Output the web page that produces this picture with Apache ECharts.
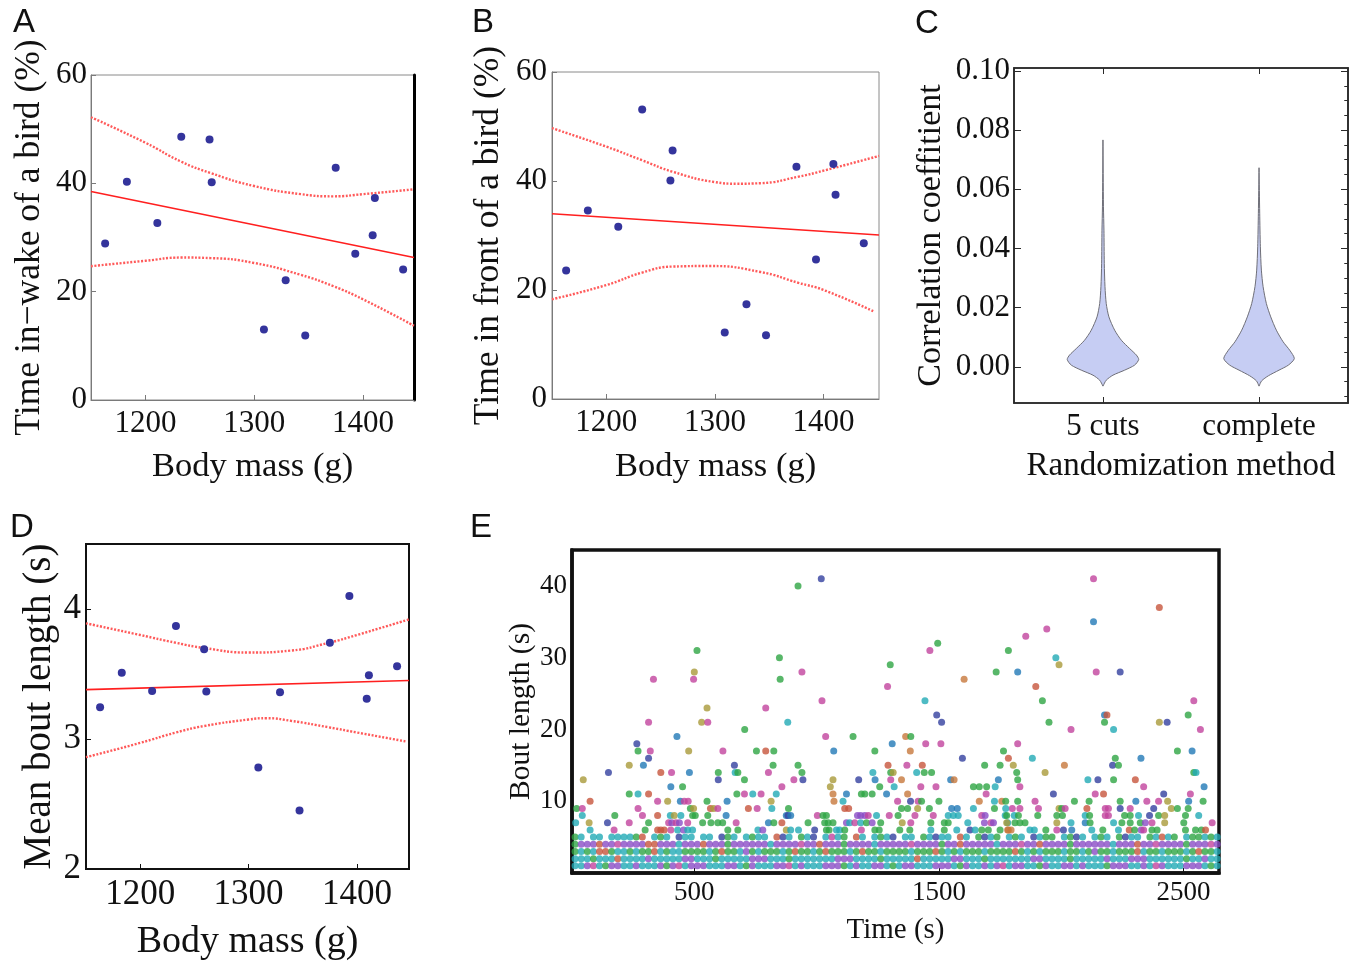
<!DOCTYPE html>
<html><head><meta charset="utf-8">
<script src="https://cdn.jsdelivr.net/npm/echarts@6/dist/echarts.min.js"></script>
<style>html,body{margin:0;padding:0;background:#fff}#c{width:1355px;height:965px}</style>
</head><body><div id="c"></div><script>
// ---------- Panels A, B, D: per-bird data ----------
const massG     = [1163,1183,1211,1233,1259,1261,1309,1329,1347,1375,1393,1409,1411,1437];
const wakePct   = [28.9,40.3,32.7,48.6,48.1,40.2,13.0,22.1,11.9,42.9,27.0,30.4,37.3,24.1];
const frontPct  = [23.6,34.6,31.6,53.1,40.1,45.6,12.2,17.4,11.7,42.6,25.6,43.1,37.5,28.6];
const meanBoutS = [3.245,3.51,3.37,3.87,3.69,3.365,2.78,3.36,2.45,3.74,4.10,3.31,3.49,3.56];
const massTicks = [1200,1300,1400];

// regression lines and confidence bands
const fitWake   = [[1150,38.5],[1447,26.3]];
const wakeUpper = [[1150,52.2],[1200,47.5],[1233,44.0],[1260,41.9],[1300,39.5],[1343,38.0],[1373,37.6],[1400,38.0],[1447,38.9]];
const wakeLower = [[1150,24.7],[1200,25.7],[1233,26.3],[1260,26.2],[1300,25.3],[1343,23.1],[1373,21.0],[1400,18.6],[1447,13.7]];
const fitFront   = [[1150,34.0],[1451,30.1]];
const frontUpper = [[1150,49.7],[1200,46.3],[1233,43.8],[1261,41.7],[1300,39.8],[1320,39.5],[1342,39.6],[1377,40.8],[1400,41.9],[1451,44.6]];
const frontLower = [[1150,18.3],[1200,20.9],[1233,23.2],[1261,24.3],[1296,24.4],[1342,23.3],[1377,21.3],[1400,20.0],[1447,16.0]];
const fitBout   = [[1150,3.38],[1448,3.45]];
const boutUpper = [[1150,3.89],[1200,3.80],[1233,3.74],[1259,3.70],[1300,3.665],[1339,3.68],[1374,3.74],[1400,3.80],[1448,3.92]];
const boutLower = [[1150,2.86],[1200,2.97],[1233,3.05],[1259,3.10],[1300,3.15],[1317,3.16],[1339,3.14],[1374,3.09],[1400,3.05],[1446,2.98]];

// ---------- Panel C: violins [value, half width] ----------
const methodNames = ['5 cuts','complete'];
const violinFiveCuts = [[-0.0065,0],[-0.0045,0.021],[-0.0028,0.064],[-0.0011,0.139],[0.0006,0.203],[0.0025,0.229],[0.004,0.214],[0.0062,0.171],[0.009,0.118],[0.0124,0.075],[0.0169,0.038],[0.0214,0.021],[0.0271,0.013],[0.035,0.0085],[0.0462,0.0064],[0.0541,0.0032],[0.0767,0]];
const violinComplete = [[-0.0065,0],[-0.0047,0.017],[-0.003,0.06],[-0.0011,0.128],[0.0006,0.188],[0.0028,0.226],[0.0056,0.197],[0.0085,0.154],[0.0124,0.111],[0.0169,0.075],[0.0214,0.047],[0.0271,0.026],[0.0327,0.015],[0.0406,0.0085],[0.0519,0.0043],[0.0673,0]];
const corrTicks = [0,0.02,0.04,0.06,0.08,0.10];
const corrMinor = [-0.01,-0.005,0.005,0.01,0.015,0.025,0.03,0.035,0.045,0.05,0.055,0.065,0.07,0.075,0.085,0.09,0.095];

// ---------- Panel E: bouts ----------
const timeTicks = [500,1500,2500];
const lenTicks = [10,20,30,40];
const boutColors = {g:'#2ea543',c:'#22aab5',p:'#8a4cc6',m:'#c2449e',b:'#33409f',l:'#2279b6',r:'#c7553c',o:'#a99a3a',k:'#c7783c'};
// rows of 1..5 s bouts, one character per 25 s bin ('.' = none)
const binSec = 25;
const row1 = "ccpmcgppcc"+"pcccpgpmcp"+"ppcccppcgp"+"cccppmcpcc"+"cpppgcpccp"+"pcgcppcccp"+"ppcgpccpcp"+"mcppccgpcc"+"ppcpcccgpp"+"pccpcmpccc"+"pppcgc";
const row2 = "cccgcccrcc"+"ccpcccccpp"+"cccgcccccp"+"ppcccgcccc"+"cccpppcccc"+"gcccccrccc"+"ccppcccgcc"+"cccccppccc"+"cgcccccpcc"+"cpppcccccc"+"gccpcc";
const row3 = "gcgcrrgccg"+"cggrcgccgg"+"ggcgrggcpg"+"cgggcgrggc"+"grgggcgrgg"+"cggggcgggr"+"gcgcgggcgg"+"ggrgcgcggg"+"cggcgpggcg"+"ggrcggcggg"+"cgrggc";
const row4 = "gppprppmpp"+"pprrpppcpp"+"prpppgpppp"+"ppcppppmpp"+"rpppgppppc"+"pppppmpppp"+"gpprpppppc"+"pppmpprppp"+"pgppppppcp"+"pprppmpppp"+"gpppmp";
const row5 = "gc.cc.cccc"+"gr.cgc.bcc"+".cc.bgc.cg"+"cc.rbc.gcb"+".cmcg.rc.c"+"gcb.cc.gcb"+"cc.rc.gbcg"+".cgc.bcgg."+"cgbc.cgc.g"+"bcc.gcrcg."+"cggcgc";
const denseRows = [row1,row2,row3,row4,row5];
// bouts of 6..9 s: [time, length, colour]
const boutsMid = [
[19,9,'g'],[42,9,'m'],[270,9,'m'],[484,9,'g'],[497,9,'o'],[566,9,'r'],[579,9,'o'],[596,9,'m'],[721,9,'r'],[757,9,'m'],[817,9,'c'],
[42,8,'c'],[175,8,'g'],[288,8,'m'],[350,8,'r'],[402,8,'c'],[418,8,'o'],[445,8,'c'],[493,8,'g'],[504,8,'g'],[555,8,'g'],[630,8,'l'],[876,8,'l'],
[15,7,'c'],[70,7,'o'],[145,7,'b'],[234,7,'m'],[313,7,'g'],[395,7,'m'],[408,7,'p'],[425,7,'m'],[439,7,'p'],[473,7,'m'],[534,7,'g'],[568,7,'g'],[596,7,'g'],[616,7,'g'],[671,7,'m'],[803,7,'l'],[825,7,'g'],[858,7,'r'],
[74,6,'c'],[172,6,'m'],[299,6,'g'],[350,6,'r'],[363,6,'r'],[377,6,'r'],[404,6,'m'],[432,6,'c'],[456,6,'p'],[473,6,'c'],[493,6,'c'],[637,6,'g'],[678,6,'g'],[760,6,'c'],[780,6,'p'],[876,6,'o'],
[885,9,'g'],[1115,9,'r'],[1131,9,'r'],[1347,9,'g'],[1372,9,'g'],[1413,9,'o'],[1461,9,'g'],[1552,9,'l'],[1575,9,'l'],[1641,9,'c'],[1727,9,'g'],[1773,9,'c'],
[883,8,'b'],[894,8,'l'],[1003,8,'m'],[1026,8,'g'],[1040,8,'g'],[1167,8,'p'],[1180,8,'p'],[1197,8,'p'],[1211,8,'m'],[1245,8,'c'],[1297,8,'m'],[1333,8,'g'],[1402,8,'m'],[1477,8,'m'],[1538,8,'c'],[1559,8,'c'],[1579,8,'c'],[1675,8,'m'],[1689,8,'p'],[1771,8,'c'],
[965,7,'g'],[1033,7,'g'],[1047,7,'g'],[1067,7,'g'],[1122,7,'p'],[1135,7,'c'],[1156,7,'m'],[1180,7,'c'],[1204,7,'g'],[1227,7,'p'],[1262,7,'g'],[1350,7,'o'],[1385,7,'m'],[1467,7,'g'],[1522,7,'g'],[1538,7,'g'],[1618,7,'c'],[1686,7,'p'],[1713,7,'m'],[1723,7,'p'],[1781,7,'c'],
[894,6,'c'],[926,6,'c'],[992,6,'b'],[1040,6,'g'],[1051,6,'g'],[1081,6,'c'],[1094,6,'c'],[1115,6,'g'],[1183,6,'m'],[1238,6,'g'],[1256,6,'g'],[1340,6,'g'],[1381,6,'g'],[1467,6,'c'],[1522,6,'g'],[1573,6,'c'],[1627,6,'b'],[1648,6,'c'],[1675,6,'g'],[1702,6,'g'],[1750,6,'g'],[1781,6,'k'],
[1800,9,'m'],[1831,9,'m'],[1907,9,'m'],[1991,9,'o'],[2002,9,'g'],[2016,9,'m'],[2105,9,'r'],[2180,9,'m'],[2193,9,'m'],[2241,9,'b'],[2282,9,'m'],[2378,9,'b'],[2450,9,'o'],[2475,9,'g'],[2519,9,'g'],
[1777,8,'g'],[1808,8,'c'],[1825,8,'g'],[1904,8,'g'],[1982,8,'g'],[2005,8,'g'],[2098,8,'c'],[2116,8,'g'],[2180,8,'m'],[2193,8,'m'],[2259,8,'g'],[2282,8,'g'],[2316,8,'c'],[2361,8,'b'],[2398,8,'g'],[2423,8,'o'],[2508,8,'g'],[2562,8,'c'],
[1777,7,'o'],[1811,7,'g'],[1831,7,'g'],[1852,7,'g'],[1982,7,'o'],[2040,7,'c'],[2098,7,'l'],[2118,7,'g'],[2214,7,'c'],[2248,7,'g'],[2282,7,'g'],[2323,7,'g'],[2344,7,'p'],[2371,7,'m'],[2423,7,'o'],[2501,7,'g'],[2617,7,'m'],
[1784,6,'k'],[1795,6,'k'],[1872,6,'c'],[1890,6,'c'],[1937,6,'g'],[1982,6,'m'],[2009,6,'b'],[2043,6,'l'],[2125,6,'c'],[2170,6,'g'],[2234,6,'c'],[2278,6,'r'],[2300,6,'g'],[2327,6,'p'],[2337,6,'m'],[2371,6,'g'],[2392,6,'g'],[2508,6,'g'],[2549,6,'g'],[2573,6,'g'],[2590,6,'r']
];
// bouts of 10 s and longer
const boutsTall = [
[511,31,'g'],[500,28,'o'],[497,27,'m'],[333,27,'m'],[848,30,'g'],[851,27,'g'],[792,23,'m'],[882,21,'c'],[552,23,'o'],[530,21,'o'],[555,21,'m'],[313,21,'m'],[706,20,'g'],[429,19,'l'],[265,18,'b'],[270,17,'g'],[320,17,'m'],[313,16,'b'],[477,17,'o'],[617,17,'m'],[754,17,'g'],[792,17,'r'],[825,17,'g'],[292,15,'l'],[234,15,'o'],[822,15,'g'],[664,15,'b'],[149,14,'b'],[363,14,'r'],[407,14,'m'],[480,14,'l'],[598,14,'g'],[598,13,'b'],[667,14,'c'],[678,14,'g'],[803,14,'m'],[46,13,'o'],[705,13,'g'],[858,12,'m'],[404,12,'l'],[452,12,'g'],[234,11,'g'],[270,11,'c'],[313,11,'r'],[674,11,'g'],[705,11,'m'],[739,11,'c'],[773,11,'m'],[835,11,'c'],[74,10,'r'],[350,10,'m'],[391,10,'o'],[443,10,'l'],[459,10,'m'],[475,10,'m'],[552,10,'g'],[634,10,'l'],[814,10,'o'],
[924,40,'g'],[1019,41,'b'],[940,28,'m'],[1495,32,'g'],[1463,31,'m'],[1784,31,'g'],[1301,29,'g'],[1290,26,'m'],[1734,28,'g'],[1603,27,'k'],[1022,24,'m'],[1443,24,'c'],[1491,22,'b'],[1511,21,'b'],[1037,19,'m'],[1149,19,'g'],[1070,17,'l'],[1309,18,'l'],[1364,19,'k'],[1385,19,'g'],[1383,17,'k'],[1446,18,'m'],[1508,18,'m'],[1238,17,'g'],[1596,16,'b'],[1764,17,'g'],[1784,16,'r'],[924,15,'g'],[940,14,'g'],[944,13,'b'],[907,13,'m'],[1292,15,'r'],[1303,14,'g'],[1313,14,'o'],[1369,15,'m'],[1432,15,'r'],[1409,14,'c'],[1440,14,'g'],[1470,14,'g'],[1687,15,'g'],[1750,15,'g'],[1230,14,'c'],[1172,13,'b'],[1239,13,'l'],[1303,13,'m'],[1347,13,'k'],[1548,13,'l'],[1562,13,'k'],[1743,13,'l'],[1067,13,'o'],[1056,12,'o'],[1258,12,'g'],[1317,12,'c'],[1426,12,'m'],[1488,12,'m'],[1641,12,'g'],[1665,12,'g'],[1695,12,'g'],[1730,12,'c'],[1067,11,'k'],[1122,11,'l'],[1183,11,'g'],[1197,11,'g'],[1227,11,'g'],[1286,11,'l'],[1372,11,'k'],[1693,11,'m'],[1071,10,'k'],[1108,10,'c'],[1331,10,'m'],[1384,10,'b'],[1415,10,'m'],[1429,10,'g'],[1500,10,'g'],[1665,10,'k'],[1727,10,'c'],[1757,10,'k'],[1773,10,'g'],
[2132,41,'m'],[2401,37,'r'],[2132,35,'l'],[1941,34,'m'],[1855,33,'m'],[1978,30,'c'],[1991,29,'o'],[1822,28,'l'],[2143,28,'m'],[2241,28,'b'],[1896,26,'r'],[1923,24,'g'],[1950,21,'g'],[2040,20,'m'],[2177,22,'l'],[2187,22,'r'],[2177,21,'g'],[2214,20,'c'],[2401,21,'o'],[2433,21,'b'],[2542,24,'m'],[2519,22,'g'],[2569,20,'m'],[1822,18,'m'],[1804,15,'o'],[1818,14,'g'],[1822,13,'g'],[1831,12,'m'],[1882,16,'c'],[1934,14,'o'],[2013,15,'k'],[1968,11,'b'],[2109,13,'c'],[2150,13,'b'],[2139,11,'m'],[2173,11,'r'],[2221,16,'g'],[2210,15,'b'],[2234,15,'g'],[2214,13,'g'],[2326,16,'l'],[2303,13,'r'],[2337,12,'m'],[2475,17,'g'],[2535,17,'l'],[2542,14,'g'],[2551,14,'c'],[2584,12,'l'],[2528,11,'m'],[2419,11,'b'],[2580,10,'g'],[1822,10,'g'],[1893,10,'m'],[2054,10,'g'],[2114,10,'g'],[2241,10,'g'],[2305,10,'l'],[2350,10,'m'],[2398,10,'m'],[2435,10,'o'],[2521,10,'l']
];

// ---------- build ----------
const SERIF = '"Liberation Serif","Times New Roman",serif';
const SANS = '"Liberation Sans",Arial,sans-serif';
const TXT = '#111';
const DOT = '#34349c';
const FIT = '#ff1f1f';
const BAND = '#ff5a5a';
const plain = v => String(v);

function pts(xs, ys){ return xs.map((x,i)=>[x, ys[i]]); }
function nameStyle(fs){ return {fontSize:fs, fontFamily:SERIF, color:TXT}; }
function labelStyle(fs, extra){ return Object.assign({fontSize:fs, fontFamily:SERIF, color:TXT, formatter:plain}, extra||{}); }

const boutData = [];
denseRows.forEach((s, r) => {
  for (let i = 0; i < s.length; i++) {
    const ch = s[i];
    if (ch === '.') continue;
    boutData.push({value:[i*binSec + binSec/2, r+1], itemStyle:{color:boutColors[ch]}});
  }
});
boutsMid.concat(boutsTall).forEach(d => boutData.push({value:[d[0], d[1]], itemStyle:{color:boutColors[d[2]]}}));

function violinSeries(profile, cat){
  return {
    type:'custom', xAxisIndex:2, yAxisIndex:3, data:[[cat, 0]], clip:false, z:3,
    renderItem:function(params, api){
      const c = api.value(0);
      const right = profile.map(p => api.coord([c + p[1], p[0]]));
      const left = profile.slice().reverse().map(p => api.coord([c - p[1], p[0]]));
      return {type:'polygon', shape:{points:right.concat(left), smooth:0.25},
        style:{fill:'#c6cdf3', stroke:'#6f6f78', lineWidth:1}};
    }
  };
}

function lineS(xi, yi, data, dotted, smooth){
  return {type:'line', xAxisIndex:xi, yAxisIndex:yi, data:data, showSymbol:false, symbol:'none',
    smooth: smooth ? 0.5 : false, silent:true, z:2,
    lineStyle: dotted ? {color:BAND, width:2.4, type:[2,1.6]} : {color:FIT, width:1.6}};
}
function scat(xi, yi, data){
  return {type:'scatter', xAxisIndex:xi, yAxisIndex:yi, data:data, symbolSize:8, z:4,
    itemStyle:{color:DOT, opacity:1}};
}
function letter(t, x, y){
  return {type:'text', x:x, y:y, style:{text:t, fontSize:33, fontFamily:SANS, fill:'#111', align:'center', verticalAlign:'middle'}};
}

const noSplit = {show:false};
const option = {
  animation:false,
  backgroundColor:'#fff',
  grid:[
    {left:91, top:75, width:323, height:325, show:true, borderColor:'#8a8a8a', borderWidth:1},
    {left:552, top:72, width:327, height:327, show:true, borderColor:'#8a8a8a', borderWidth:1},
    {left:1014, top:68, width:334, height:335, show:true, borderColor:'#2a2a2a', borderWidth:1.6},
    {left:86, top:544, width:323, height:325, show:true, borderColor:'#111', borderWidth:2},
    {left:572, top:550, width:647, height:323, show:true, borderColor:'#111', borderWidth:3.5}
  ],
  xAxis:[
    {gridIndex:0, type:'value', min:1150, max:1447, splitLine:noSplit,
      axisLine:{onZero:false, lineStyle:{color:'#7a7a7a', width:1}},
      axisTick:{inside:true, length:5, customValues:massTicks, lineStyle:{color:'#7a7a7a'}},
      axisLabel:labelStyle(31,{customValues:massTicks, margin:8}),
      name:'Body mass (g)', nameLocation:'middle', nameGap:49, nameTextStyle:nameStyle(34.5)},
    {gridIndex:1, type:'value', min:1150, max:1451, splitLine:noSplit,
      axisLine:{onZero:false, lineStyle:{color:'#7a7a7a', width:1}},
      axisTick:{inside:true, length:5, customValues:massTicks, lineStyle:{color:'#7a7a7a'}},
      axisLabel:labelStyle(31,{customValues:massTicks, margin:8}),
      name:'Body mass (g)', nameLocation:'middle', nameGap:50, nameTextStyle:nameStyle(34.5)},
    {gridIndex:2, type:'value', min:0.43, max:2.57, splitLine:noSplit,
      axisLine:{onZero:false, lineStyle:{color:'#2a2a2a', width:1.6}},
      axisTick:{inside:true, length:6, customValues:[1,2], lineStyle:{color:'#2a2a2a'}},
      axisLabel:labelStyle(31,{customValues:[1,2], margin:8, formatter:v => methodNames[Math.round(v)-1]}),
      name:'Randomization method', nameLocation:'middle', nameGap:47, nameTextStyle:nameStyle(33)},
    {gridIndex:2, type:'value', position:'top', min:0.43, max:2.57, splitLine:noSplit,
      axisLine:{onZero:false, lineStyle:{color:'#2a2a2a', width:1.6}},
      axisTick:{inside:true, length:6, customValues:[1,2], lineStyle:{color:'#2a2a2a'}},
      axisLabel:{show:false}},
    {gridIndex:3, type:'value', min:1150, max:1448, splitLine:noSplit,
      axisLine:{onZero:false, lineStyle:{color:'#111', width:2}},
      axisTick:{inside:true, length:5, customValues:massTicks, lineStyle:{color:'#111'}},
      axisLabel:labelStyle(35,{customValues:massTicks, margin:8}),
      name:'Body mass (g)', nameLocation:'middle', nameGap:54, nameTextStyle:nameStyle(38)},
    {gridIndex:4, type:'value', min:0, max:2645, splitLine:noSplit,
      axisLine:{onZero:false, lineStyle:{color:'#111', width:3.5}},
      axisTick:{inside:true, length:5, customValues:timeTicks, lineStyle:{color:'#111'}},
      axisLabel:labelStyle(27,{customValues:timeTicks, margin:6}),
      name:'Time (s)', nameLocation:'middle', nameGap:43, nameTextStyle:nameStyle(29)}
  ],
  yAxis:[
    {gridIndex:0, type:'value', min:0, max:60, interval:20, splitLine:noSplit,
      axisLine:{onZero:false, lineStyle:{color:'#7a7a7a', width:1}},
      axisTick:{inside:true, length:5, lineStyle:{color:'#7a7a7a'}},
      axisLabel:labelStyle(31,{margin:4}),
      name:'Time in\u2212wake of a bird (%)', nameLocation:'middle', nameGap:43, nameTextStyle:nameStyle(35.5)},
    {gridIndex:0, type:'value', position:'right', min:0, max:60, splitLine:noSplit,
      axisLine:{onZero:false, lineStyle:{color:'#000', width:3}}, axisTick:{show:false}, axisLabel:{show:false}},
    {gridIndex:1, type:'value', min:0, max:60, interval:20, splitLine:noSplit,
      axisLine:{onZero:false, lineStyle:{color:'#7a7a7a', width:1}},
      axisTick:{inside:true, length:5, lineStyle:{color:'#7a7a7a'}},
      axisLabel:labelStyle(31,{margin:5}),
      name:'Time in front of a bird (%)', nameLocation:'middle', nameGap:45, nameTextStyle:nameStyle(35.5)},
    {gridIndex:2, type:'value', min:-0.0122, max:0.101, splitLine:noSplit,
      axisLine:{onZero:false, lineStyle:{color:'#2a2a2a', width:1.6}},
      axisTick:{inside:true, length:7, customValues:corrTicks, lineStyle:{color:'#2a2a2a'}},
      axisLabel:labelStyle(31,{customValues:corrTicks, margin:4, formatter:v => v.toFixed(2)}),
      name:'Correlation coeffitient', nameLocation:'middle', nameGap:66, nameTextStyle:nameStyle(34)},
    {gridIndex:2, type:'value', position:'right', min:-0.0122, max:0.101, splitLine:noSplit,
      axisLine:{onZero:false, lineStyle:{color:'#2a2a2a', width:1.6}},
      axisTick:{inside:true, length:7, customValues:corrTicks, lineStyle:{color:'#2a2a2a'}},
      axisLabel:{show:false}},
    {gridIndex:2, type:'value', min:-0.0122, max:0.101, splitLine:noSplit, axisLine:{show:false, onZero:false},
      axisTick:{inside:true, length:3.5, customValues:corrMinor, lineStyle:{color:'#2a2a2a'}},
      axisLabel:{show:false}},
    {gridIndex:2, type:'value', position:'right', min:-0.0122, max:0.101, splitLine:noSplit, axisLine:{show:false, onZero:false},
      axisTick:{inside:true, length:3.5, customValues:corrMinor, lineStyle:{color:'#2a2a2a'}},
      axisLabel:{show:false}},
    {gridIndex:3, type:'value', min:2, max:4.5, splitLine:noSplit,
      axisLine:{onZero:false, lineStyle:{color:'#111', width:2}},
      axisTick:{inside:true, length:5, customValues:[2,3,4], lineStyle:{color:'#111'}},
      axisLabel:labelStyle(35,{customValues:[2,3,4], margin:5}),
      name:'Mean bout length (s)', nameLocation:'middle', nameGap:27, nameTextStyle:nameStyle(39)},
    {gridIndex:4, type:'value', min:0, max:45, splitLine:noSplit,
      axisLine:{onZero:false, lineStyle:{color:'#111', width:3.5}},
      axisTick:{show:false},
      axisLabel:labelStyle(27,{customValues:lenTicks, margin:5}),
      name:'Bout length (s)', nameLocation:'middle', nameGap:35, nameTextStyle:nameStyle(29.5)}
  ],
  graphic:[ letter('A',24,23), letter('B',483,23), letter('C',927,24), letter('D',22,528), letter('E',481,528) ],
  series:[
    lineS(0,0,wakeUpper,true,true), lineS(0,0,wakeLower,true,true), lineS(0,0,fitWake,false,false),
    scat(0,0,pts(massG,wakePct)),
    lineS(1,2,frontUpper,true,true), lineS(1,2,frontLower,true,true), lineS(1,2,fitFront,false,false),
    scat(1,2,pts(massG,frontPct)),
    violinSeries(violinFiveCuts,1), violinSeries(violinComplete,2),
    lineS(4,7,boutUpper,true,true), lineS(4,7,boutLower,true,true), lineS(4,7,fitBout,false,false),
    scat(4,7,pts(massG,meanBoutS)),
    {type:'scatter', xAxisIndex:5, yAxisIndex:8, data:boutData, symbolSize:7, z:4, silent:true}
  ]
};
const chart = echarts.init(document.getElementById('c'), null, {width:1355, height:965});
chart.setOption(option);
</script></body></html>
